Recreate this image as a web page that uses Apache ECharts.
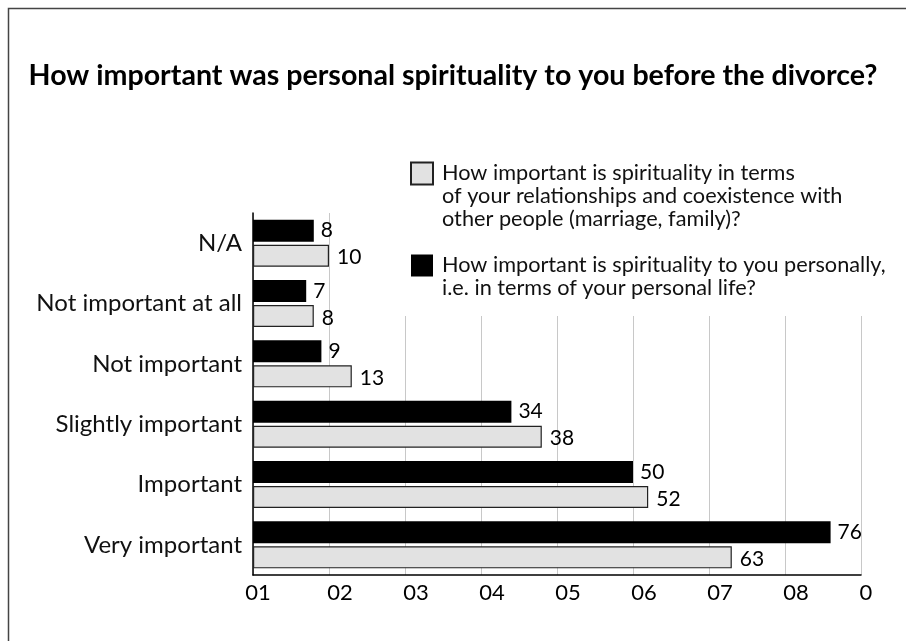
<!DOCTYPE html>
<html><head><meta charset="utf-8">
<script src="https://cdn.jsdelivr.net/npm/echarts@6/dist/echarts.min.js"></script>
<style>html,body{margin:0;padding:0;background:#fff}#c{width:906px;height:641px}</style>
</head><body><div id="c"></div>
<script>
const categories = ['N/A','Not important at all','Not important','Slightly important','Important','Very important'];
const personal = [8, 7, 9, 34, 50, 76];
const relationships = [10, 8, 13, 38, 52, 63];
const tickLabels = {0:'01',10:'02',20:'03',30:'04',40:'05',50:'06',60:'07',70:'08',80:'0'};
const title = 'How important was personal spirituality to you before the divorce?';
const nameRel = 'How important is spirituality in terms\nof your relationships and coexistence with\nother people (marriage, family)?';
const namePers = 'How important is spirituality to you personally,\ni.e. in terms of your personal life?';

const FONT = 'Lato';
const chart = echarts.init(document.getElementById('c'));
chart.setOption({
  backgroundColor: '#fff',
  animation: false,
  title: {text: title, left: 'center', top: 56,
    textStyle: {fontFamily: FONT, fontWeight: 'bold', fontSize: 28.6, color: '#000'}},
  graphic: [{type:'rect', shape:{x:8.5,y:8.5,width:1000,height:1000},
    style:{fill:'none', stroke:'#444', lineWidth:1.5}, silent:true}],
  legend: {
    data: [nameRel, namePers],
    formatter: name => (name === nameRel ? '\n\n' : '\n') + name,
    orient: 'vertical', left: 400, top: 106,
    backgroundColor: '#fff', padding: [10, 10, 16, 10],
    itemWidth: 22, itemHeight: 22, itemGap: 0,
    textStyle: {fontFamily: FONT, fontSize: 21.7, color: '#111', lineHeight: 23, padding: [0, 0, 0, 4]},
    icon: 'rect'
  },
  grid: {left: 253, right: 45, top: 213, bottom: 66, containLabel: false},
  xAxis: {type: 'value', min: 0, max: 80, interval: 10,
    axisLine: {show: true, lineStyle: {color: '#000', width: 1.5}},
    axisTick: {show: false},
    splitLine: {show: true, lineStyle: {color: '#c8c8c8', width: 1}},
    axisLabel: {margin: 7, fontFamily: FONT, fontSize: 22, color: '#000',
      formatter: v => (v === 0 || v === 80) ? '{a|' + tickLabels[v] + '}' : '{b|' + tickLabels[v] + '}',
      rich: {a: {fontFamily: FONT, fontSize: 22, color: '#000', padding: [0,0,0,10]},
             b: {fontFamily: FONT, fontSize: 22, color: '#000', padding: [0,0,0,22]}}}
  },
  yAxis: {type: 'category', data: categories, inverse: true,
    axisLine: {show: true, lineStyle: {color: '#000', width: 1.5}},
    axisTick: {show: false},
    axisLabel: {margin: 11, fontFamily: FONT, fontSize: 24, color: '#111'}},
  series: [
    {name: namePers, type: 'bar', data: personal, barWidth: 22, barGap: '14%', barCategoryGap: '22%',
     itemStyle: {color: '#000'},
     label: {show: true, position: 'right', distance: 7, offset: [0, 0], fontFamily: FONT, fontSize: 21, color: '#000'}},
    {name: nameRel, type: 'bar', data: relationships, barWidth: 22,
     itemStyle: {color: '#e2e2e2', borderColor: '#222', borderWidth: 1.2},
     label: {show: true, position: 'right', distance: 8, offset: [0, 2], fontFamily: FONT, fontSize: 21, color: '#000'}}
  ]
});
</script></body></html>
